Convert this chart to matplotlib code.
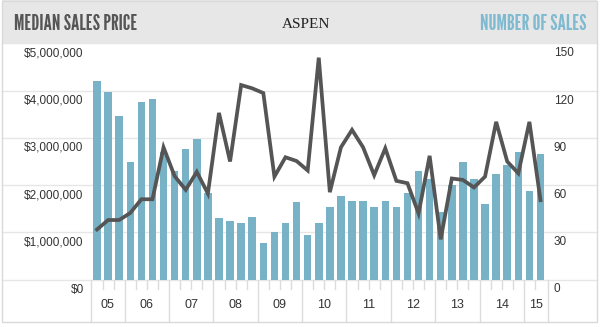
import numpy as np
import matplotlib
matplotlib.use("Agg")
import matplotlib.pyplot as plt
from matplotlib.patches import Rectangle
from matplotlib.transforms import offset_copy

# quarterly data, 2005 Q2 .. 2015 Q2
quarters = [(y, q) for y in range(2005, 2016) for q in range(1, 5)]
quarters = quarters[1:42]
year_labels = ['05', '06', '07', '08', '09', '10', '11', '12', '13', '14', '15']

num_sales = [126, 119, 104, 75, 113, 115, 81, 69, 83, 89, 55, 39, 37, 36, 40,
             23, 30, 36, 49, 28, 36, 46, 53, 50, 50, 46, 50, 46, 55, 69, 64,
             43, 60, 75, 64, 48, 67, 73, 81, 56, 80]
median_price = [1.06, 1.26, 1.26, 1.41, 1.70, 1.70, 2.80, 2.19, 1.90, 2.28,
                1.82, 3.53, 2.50, 4.12, 4.05, 3.95, 2.18, 2.59, 2.51, 2.31,
                4.70, 1.85, 2.80, 3.17, 2.80, 2.21, 2.78, 2.09, 2.04, 1.40,
                2.62, 0.85, 2.14, 2.11, 1.95, 2.18, 3.34, 2.50, 2.25, 3.34,
                1.68]  # millions

price_ticks = [0, 1e6, 2e6, 3e6, 4e6, 5e6]
sales_ticks = [0, 30, 60, 90, 120, 150]

BAR_COLOR = '#78b2c7'
LINE_COLOR = '#555555'
GRID_COLOR = '#e6e6e6'
TEXT_COLOR = '#333333'
HEAD_FONT = ['League Gothic', 'Oswald', 'Liberation Sans Narrow', 'DejaVu Sans']

W, H = 600, 327


def fx(px):
    return px / W


def fy(py):
    return 1 - py / H


fig = plt.figure(figsize=(6, 3.27), dpi=100)

# header band and outer frame
fig.add_artist(Rectangle((fx(2), fy(43.5)), fx(597) - fx(2), fy(0) - fy(43.5),
                         transform=fig.transFigure, facecolor='#e7e7e7',
                         edgecolor='none', zorder=0))
fig.add_artist(Rectangle((fx(2), fy(322)), fx(597) - fx(2), fy(0.5) - fy(322),
                         transform=fig.transFigure, fill=False,
                         edgecolor='#d9d9d9', lw=1, zorder=5))

fig.text(fx(14), fy(24), 'MEDIAN SALES PRICE', ha='left', va='center',
         fontsize=15.5, color='#555555', family=HEAD_FONT)
fig.text(fx(306), fy(24), 'ASPEN', ha='center', va='center',
         fontsize=11, color='#222222', family=['Liberation Serif', 'DejaVu Serif'])
fig.text(fx(586), fy(24), 'NUMBER OF SALES', ha='right', va='center',
         fontsize=15.5, color='#7fbad0', family=HEAD_FONT)

ax = fig.add_axes([fx(90.7), fy(279.5), fx(547.7) - fx(90.7), fy(43.5) - fy(279.5)])
ax2 = ax.twinx()

x = np.arange(len(num_sales))
ax.bar(x, num_sales, width=0.68, color=BAR_COLOR, zorder=2)
ax.set_xlim(-0.57, 40.65)
ax.set_ylim(0, 150)

ax2.plot(x, np.array(median_price) * 1e6, color=LINE_COLOR, lw=2.7,
         solid_joinstyle='miter', zorder=3)
ax2.set_xlim(-0.57, 40.65)
ax2.set_ylim(0, 5e6)

ax.axis('off')
ax2.axis('off')

# full-width gridlines
for v in sales_ticks:
    ax.axhline(v, xmin=-0.194, xmax=1.108, color=GRID_COLOR, lw=1,
               zorder=0, clip_on=False)

# left labels (price), hanging just under the gridline
lt = offset_copy(ax2.get_yaxis_transform(), fig=fig, x=-7, y=-4, units='dots')
for v in price_ticks:
    ax2.text(0, v, '${:,.0f}'.format(v), transform=lt, ha='right', va='top',
             fontsize=8.5, color=TEXT_COLOR, family='Liberation Sans')

rt = offset_copy(ax.get_yaxis_transform(), fig=fig, x=6, y=-4, units='dots')
for v in sales_ticks:
    ax.text(1, v, str(v), transform=rt, ha='left', va='top',
            fontsize=8.5, color=TEXT_COLOR, family='Liberation Sans')

# year separators, quarter ticks and year labels
xl = ax.get_xlim()
years = [q[0] for q in quarters]
edges = [xl[0]]
for i in range(1, len(years)):
    if years[i] != years[i - 1]:
        edges.append(i - 0.5)
    else:
        ax.plot([i - 0.5, i - 0.5], [0, -0.042], transform=ax.get_xaxis_transform(),
                color='#dcdcdc', lw=1, clip_on=False)
edges.append(xl[1])

for e in edges:
    ax.plot([e, e], [0, -0.18], transform=ax.get_xaxis_transform(),
            color='#dcdcdc', lw=1, clip_on=False)

for k, lab in enumerate(year_labels):
    mid = (edges[k] + edges[k + 1]) / 2
    ax.text(mid, -0.108, lab, transform=ax.get_xaxis_transform(),
            ha='center', va='center', fontsize=9, color=TEXT_COLOR,
            family='Liberation Sans')

fig.savefig('out.png', dpi=100)
